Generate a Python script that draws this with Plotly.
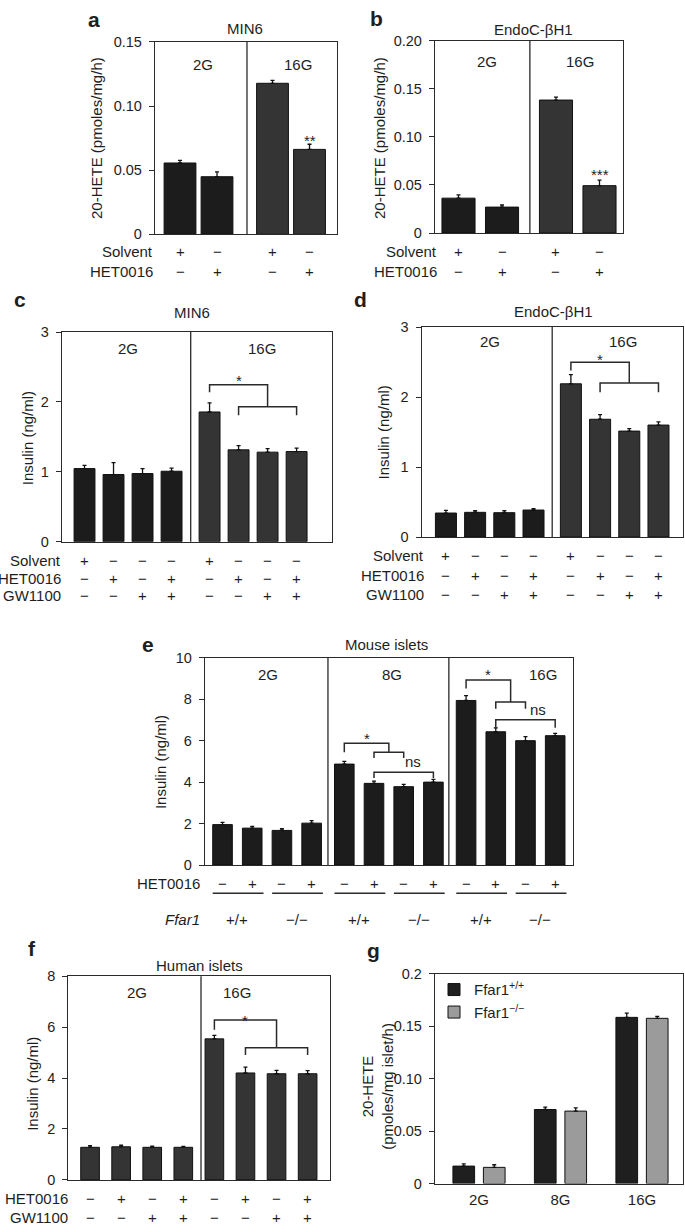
import plotly.graph_objects as go

W, H = 685, 1232
FONT = "Liberation Sans, Arial, Helvetica, sans-serif"
TC = "#1e1e1e"
LC = "#2a2a2a"

# ---------------- data ----------------
ab_glucose = ["2G", "16G"]
a_values = [0.0556, 0.0449, 0.1177, 0.0662]
a_errors = [0.0021, 0.0038, 0.0023, 0.0040]
a_yticks = [0, 0.05, 0.10, 0.15]
a_yticktext = ["0", "0.05", "0.10", "0.15"]

b_values = [0.0363, 0.0270, 0.1384, 0.0493]
b_errors = [0.0035, 0.0022, 0.0030, 0.0057]
b_yticks = [0, 0.05, 0.10, 0.15, 0.20]
b_yticktext = ["0", "0.05", "0.10", "0.15", "0.20"]

ab_solvent = ["+", "−", "+", "−"]
ab_het0016 = ["−", "+", "−", "+"]

cd_glucose = ["2G", "16G"]
c_values = [1.046, 0.961, 0.975, 1.008, 1.856, 1.314, 1.281, 1.290]
c_errors = [0.047, 0.17, 0.07, 0.045, 0.13, 0.06, 0.05, 0.05]
d_values = [0.343, 0.353, 0.348, 0.386, 2.190, 1.683, 1.514, 1.600]
d_errors = [0.037, 0.023, 0.028, 0.018, 0.13, 0.067, 0.036, 0.045]
cd_yticks = [0, 1, 2, 3]
cd_yticktext = ["0", "1", "2", "3"]
cd_solvent = ["+", "−", "−", "−", "+", "−", "−", "−"]
cd_het0016 = ["−", "+", "−", "+", "−", "+", "−", "+"]
cd_gw1100 = ["−", "−", "+", "+", "−", "−", "+", "+"]

e_glucose = ["2G", "8G", "16G"]
e_values = [1.95, 1.78, 1.67, 2.02, 4.87, 3.94, 3.78, 4.00, 7.94, 6.43, 6.00, 6.24]
e_errors = [0.11, 0.08, 0.08, 0.12, 0.13, 0.11, 0.11, 0.13, 0.23, 0.19, 0.19, 0.11]
e_yticks = [0, 2, 4, 6, 8, 10]
e_yticktext = ["0", "2", "4", "6", "8", "10"]
e_het0016 = ["−", "+"] * 6
e_ffar1 = ["+/+", "−/−"] * 3

f_glucose = ["2G", "16G"]
f_values = [1.28, 1.30, 1.28, 1.28, 5.54, 4.20, 4.17, 4.17]
f_errors = [0.06, 0.06, 0.05, 0.04, 0.14, 0.23, 0.13, 0.12]
f_yticks = [0, 2, 4, 6, 8]
f_yticktext = ["0", "2", "4", "6", "8"]
f_het0016 = ["−", "+", "−", "+", "−", "+", "−", "+"]
f_gw1100 = ["−", "−", "+", "+", "−", "−", "+", "+"]

g_glucose = ["2G", "8G", "16G"]
g_wt_values = [0.0166, 0.0705, 0.1583]
g_wt_errors = [0.0022, 0.0022, 0.0041]
g_ko_values = [0.0154, 0.0690, 0.1574]
g_ko_errors = [0.0025, 0.0031, 0.0018]
g_yticks = [0, 0.05, 0.10, 0.15, 0.2]
g_yticktext = ["0", "0.05", "0.10", "0.15", "0.2"]

# ---------------- helpers ----------------
fig = go.Figure()
annotations = []
shapes = []


def fx(p):
    return p / W


def fy(p):
    return 1 - p / H


def positions(n_per, n_groups, gap):
    return [i + (i // n_per) * gap for i in range(n_per * n_groups)]


def ann(x, y, s, size=15, xref="paper", yref="paper", xanchor="center",
        yanchor="middle", bold=False, italic=False, angle=0):
    if xref == "paper":
        x = fx(x)
    if yref == "paper":
        y = fy(y)
    if bold:
        s = "<b>" + s + "</b>"
    if italic:
        s = "<i>" + s + "</i>"
    annotations.append(dict(x=x, y=y, xref=xref, yref=yref, text=s, showarrow=False,
                            font=dict(size=size, color=TC, family=FONT),
                            xanchor=xanchor, yanchor=yanchor, textangle=angle))


def axes(k, dom, xrange, yrange, yticks, yticktext):
    xr = "x" if k == 1 else "x%d" % k
    yr = "y" if k == 1 else "y%d" % k
    left, right, top, bottom = dom
    fig.update_layout(**{
        ("xaxis" if k == 1 else "xaxis%d" % k): dict(
            domain=[fx(left), fx(right)], range=xrange, anchor=yr, showline=True,
            mirror=True, linecolor=LC, linewidth=1.3, ticks="", showticklabels=False,
            showgrid=False, zeroline=False),
        ("yaxis" if k == 1 else "yaxis%d" % k): dict(
            domain=[fy(bottom), fy(top)], range=yrange, anchor=xr, showline=True,
            mirror=True, linecolor=LC, linewidth=1.3, ticks="outside", ticklen=5,
            tickwidth=1.3, tickcolor=LC, tickvals=yticks, ticktext=yticktext,
            tickfont=dict(size=14.5, color=TC, family=FONT), ticklabelstandoff=4,
            showgrid=False, zeroline=False),
    })
    return xr, yr


def bars(xr, yr, pos, values, errors, colors, width, name=None, showlegend=False):
    fig.add_trace(go.Bar(
        x=pos, y=values, width=width, xaxis=xr, yaxis=yr, name=name,
        showlegend=showlegend, hoverinfo="skip",
        marker=dict(color=colors, line=dict(color="#111111", width=1)),
        error_y=dict(type="data", symmetric=False, array=errors,
                     arrayminus=[0] * len(values), color="#111111",
                     thickness=1.3, width=2)))


def divider(xr, yr, x):
    shapes.append(dict(type="line", xref=xr, yref=yr + " domain", x0=x, x1=x, y0=0, y1=1,
                       line=dict(color=LC, width=1.3)))


def bracket(xr, yr, pts):
    path = "M " + " L ".join("%g,%g" % (px, py) for px, py in pts)
    shapes.append(dict(type="path", xref=xr, yref=yr, path=path,
                       line=dict(color=LC, width=1.5)))


def sign_row(xr, pos, signs, label, label_x, y):
    ann(label_x, y, label, xanchor="right")
    for p, s in zip(pos, signs):
        ann(p, y, s, xref=xr)


DARK = "#1c1c1c"
MID = "#343434"

# ---------------- panel a ----------------
pa = positions(2, 2, 0.5)
xr, yr = axes(1, (155, 337, 34.3, 229.3), [-0.676, 4.243], [0, 0.15], a_yticks, a_yticktext)
bars(xr, yr, pa, a_values, a_errors, [DARK, DARK, MID, MID], 0.86)
divider(xr, yr, 1.81)
ann(94, 12, "a", size=21, bold=True)
ann(245, 21, "MIN6")
ann(203, 57, ab_glucose[0])
ann(298, 57, ab_glucose[1])
ann(pa[3], 0.0733, "**", xref=xr, yref=yr)
ann(97, 131.7, "20-HETE (pmoles/mg/h)", angle=-90)
sign_row(xr, pa, ab_solvent, "Solvent", 155, 247)
sign_row(xr, pa, ab_het0016, "HET0016", 155, 267)

# ---------------- panel b ----------------
pb = positions(2, 2, 0.24)
xr, yr = axes(2, (435, 623, 33.3, 228), [-0.54, 3.78], [0, 0.20], b_yticks, b_yticktext)
bars(xr, yr, pb, b_values, b_errors, [DARK, DARK, MID, MID], 0.76)
divider(xr, yr, 1.64)
ann(376, 11, "b", size=21, bold=True)
ann(533, 22, "EndoC-βH1")
ann(487, 54, ab_glucose[0])
ann(580, 54, ab_glucose[1])
ann(pb[3], 0.0606, "***", xref=xr, yref=yr)
ann(380, 131.7, "20-HETE (pmoles/mg/h)", angle=-90)
sign_row(xr, pb, ab_solvent, "Solvent", 439, 247)
sign_row(xr, pb, ab_het0016, "HET0016", 439, 267)

# ---------------- panel c ----------------
pc = positions(4, 2, 0.31)
xr, yr = axes(3, (62, 332, 328.3, 540.7), [-0.776, 8.53], [0, 3], cd_yticks, cd_yticktext)
bars(xr, yr, pc, c_values, c_errors, [DARK] * 4 + [MID] * 4, 0.72)
divider(xr, yr, 3.66)
bracket(xr, yr, [(pc[4], 2.14), (pc[4], 2.247), (pc[6], 2.247), (pc[6], 1.93)])
bracket(xr, yr, [(pc[5], 1.81), (pc[5], 1.93), (pc[7], 1.93), (pc[7], 1.81)])
ann(pc[5], 2.31, "*", xref=xr, yref=yr)
ann(20, 295, "c", size=21, bold=True)
ann(192, 308, "MIN6")
ann(128, 345, cd_glucose[0])
ann(262, 345, cd_glucose[1])
ann(27, 435.8, "Insulin (ng/ml)", angle=-90)
sign_row(xr, pc, cd_solvent, "Solvent", 63, 560)
sign_row(xr, pc, cd_het0016, "HET0016", 63, 577.5)
sign_row(xr, pc, cd_gw1100, "GW1100", 63, 595)

# ---------------- panel d ----------------
pd_ = positions(4, 2, 0.28)
xr, yr = axes(4, (421.7, 683, 323.3, 536), [-0.83, 8.12], [0, 3], cd_yticks, cd_yticktext)
bars(xr, yr, pd_, d_values, d_errors, [DARK] * 4 + [MID] * 4, 0.72)
divider(xr, yr, 3.64)
bracket(xr, yr, [(pd_[4], 2.38), (pd_[4], 2.497), (pd_[6], 2.497), (pd_[6], 2.2)])
bracket(xr, yr, [(pd_[5], 2.07), (pd_[5], 2.2), (pd_[7], 2.2), (pd_[7], 2.07)])
ann(pd_[5], 2.54, "*", xref=xr, yref=yr)
ann(360, 295, "d", size=21, bold=True)
ann(553, 307, "EndoC-βH1")
ann(490, 338, cd_glucose[0])
ann(623, 338, cd_glucose[1])
ann(383, 430, "Insulin (ng/ml)", angle=-90)
sign_row(xr, pd_, cd_solvent, "Solvent", 426, 555)
sign_row(xr, pd_, cd_het0016, "HET0016", 426, 575)
sign_row(xr, pd_, cd_gw1100, "GW1100", 426, 594)

# ---------------- panel e ----------------
pe = positions(4, 3, 0.1)
xr, yr = axes(5, (205, 573, 658.3, 868.3), [-0.59, 11.8], [0, 10], e_yticks, e_yticktext)
bars(xr, yr, pe, e_values, e_errors, [DARK] * 12, 0.66)
divider(xr, yr, 3.55)
divider(xr, yr, 7.62)
m56 = (pe[5] + pe[6]) / 2
bracket(xr, yr, [(pe[4], 5.44), (pe[4], 5.87), (m56, 5.87), (m56, 5.44)])
bracket(xr, yr, [(pe[5], 5.16), (pe[5], 5.44), (pe[6], 5.44), (pe[6], 5.16)])
bracket(xr, yr, [(pe[5], 4.2), (pe[5], 4.48), (pe[7], 4.48), (pe[7], 4.2)])
ann((pe[4] + m56) / 2, 6.11, "*", xref=xr, yref=yr)
ann(6.41, 4.98, "ns", xref=xr, yref=yr)
m910 = (pe[9] + pe[10]) / 2
bracket(xr, yr, [(pe[8], 8.52), (pe[8], 8.93), (m910, 8.93), (m910, 7.86)])
bracket(xr, yr, [(pe[9], 7.54), (pe[9], 7.86), (pe[10], 7.86), (pe[10], 7.54)])
bracket(xr, yr, [(pe[9], 6.62), (pe[9], 7.01), (pe[11], 7.01), (pe[11], 6.62)])
ann((pe[8] + m910) / 2, 9.17, "*", xref=xr, yref=yr)
ann(10.63, 7.5, "ns", xref=xr, yref=yr)
ann(148, 645, "e", size=21, bold=True)
ann(387, 645, "Mouse islets")
ann(268, 675, e_glucose[0])
ann(392, 675, e_glucose[1])
ann(543, 675, e_glucose[2])
ann(160, 764, "Insulin (ng/ml)", angle=-90)
sign_row(xr, pe, e_het0016, "HET0016", 202, 886.7)
ann(202, 923, "Ffar1", xanchor="right", italic=True)
for j in range(6):
    x0 = pe[2 * j] - 0.33
    x1 = pe[2 * j + 1] + 0.38
    shapes.append(dict(type="line", xref=xr, yref="paper", x0=x0, x1=x1,
                       y0=fy(897), y1=fy(897), line=dict(color=LC, width=1.5)))
    ann((pe[2 * j] + pe[2 * j + 1]) / 2, 923, e_ffar1[j], xref=xr)

# ---------------- panel f ----------------
pf = positions(4, 2, 0.0)
xr, yr = axes(6, (68.3, 330, 981, 1187.3), [-0.7, 7.72], [0, 8], f_yticks, f_yticktext)
bars(xr, yr, pf, f_values, f_errors, [MID] * 8, 0.6)
divider(xr, yr, 3.57)
bracket(xr, yr, [(pf[4], 5.9), (pf[4], 6.28), (pf[6], 6.28), (pf[6], 5.19)])
bracket(xr, yr, [(pf[5], 4.91), (pf[5], 5.19), (pf[7], 5.19), (pf[7], 4.91)])
ann(pf[5], 6.26, "*", xref=xr, yref=yr)
ann(32, 953, "f", size=21, bold=True)
ann(199, 970, "Human islets")
ann(137, 997, f_glucose[0])
ann(237, 997, f_glucose[1])
ann(33, 1090, "Insulin (ng/ml)", angle=-90)
sign_row(xr, pf, f_het0016, "HET0016", 70, 1206)
sign_row(xr, pf, f_gw1100, "GW1100", 70, 1225)

# ---------------- panel g ----------------
xr, yr = axes(7, (435, 683.3, 978.3, 1191), [-0.54, 2.507], [0, 0.2], g_yticks, g_yticktext)
fig.update_layout(xaxis7=dict(showticklabels=True, tickvals=[0, 1, 2], ticktext=g_glucose,
                              tickfont=dict(size=15, color=TC, family=FONT),
                              ticklabelstandoff=2))
gx = list(range(len(g_glucose)))
bars(xr, yr, [v - 0.187 for v in gx], g_wt_values, g_wt_errors, ["#1f1f1f"] * 3, 0.266,
     name="Ffar1<sup>+/+</sup>", showlegend=True)
bars(xr, yr, [v + 0.187 for v in gx], g_ko_values, g_ko_errors, ["#9b9b9b"] * 3, 0.266,
     name="Ffar1<sup>−/−</sup>", showlegend=True)
ann(374, 955, "g", size=21, bold=True)
ann(378, 1093, "20-HETE<br>(pmoles/mg islet/h)", angle=-90)

fig.update_layout(
    width=W, height=H, margin=dict(l=0, r=0, t=0, b=0),
    paper_bgcolor="white", plot_bgcolor="white",
    font=dict(family=FONT, size=15, color=TC),
    barmode="overlay",
    annotations=annotations, shapes=shapes,
    legend=dict(x=fx(434), y=fy(978), xanchor="left", yanchor="top",
                bgcolor="rgba(0,0,0,0)", font=dict(size=15, color=TC, family=FONT),
                tracegroupgap=0, itemwidth=30),
)

fig.write_html("out.html", config={"displayModeBar": False},
               post_script="document.body.style.margin='0';document.body.style.overflow='hidden';")
